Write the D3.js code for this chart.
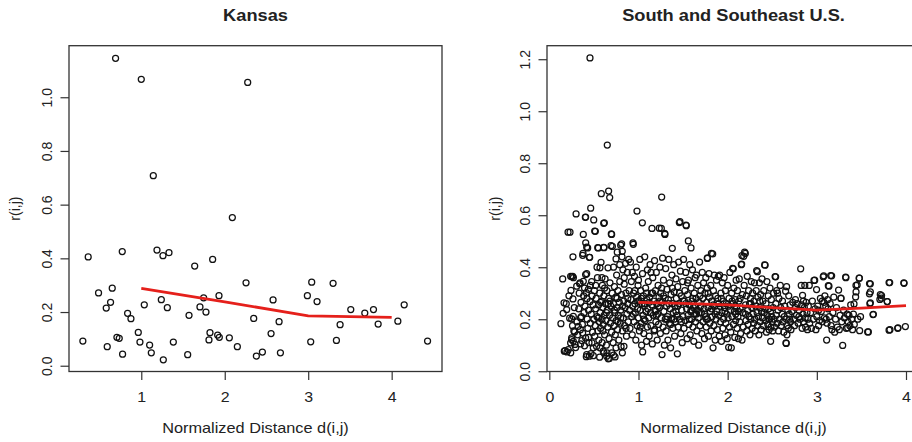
<!DOCTYPE html>
<meta charset="utf-8">
<script src="https://d3js.org/d3.v7.min.js"></script>
<style>
  body { margin: 0; background: #fff; }
  text { font-family: "Liberation Sans", Arial, Helvetica, sans-serif; fill: #222; }
</style>
<body>
<div id="chart"></div>
<script>
// ---- Kansas (left panel) ----
var kansasDist = [0.30,0.364,0.488,0.58,0.592,0.632,0.652,0.692,0.708,0.736,0.772,0.776,0.836,0.876,0.964,0.984,
  1.0,1.036,1.10,1.12,1.144,1.188,1.24,1.26,1.264,1.312,1.332,1.384,1.556,1.572,1.64,1.703,1.747,1.775,1.811,1.823,
  1.855,1.915,1.931,1.935,2.055,2.091,2.151,2.255,2.275,2.347,2.379,2.451,2.555,2.579,2.651,2.667,2.99,3.03,3.042,
  3.106,3.298,3.338,3.382,3.51,3.678,3.782,3.838,4.074,4.15,4.43];
var kansasR = [0.092,0.405,0.271,0.215,0.071,0.236,0.289,1.145,0.106,0.102,0.425,0.043,0.195,0.175,0.124,0.088,
  1.067,0.227,0.077,0.048,0.708,0.431,0.246,0.41,0.022,0.216,0.421,0.088,0.041,0.188,0.371,0.219,0.253,0.2,0.096,0.123,
  0.396,0.114,0.261,0.106,0.104,0.552,0.071,0.309,1.055,0.176,0.036,0.051,0.12,0.245,0.164,0.048,0.261,0.089,0.311,
  0.239,0.307,0.094,0.153,0.209,0.196,0.209,0.155,0.166,0.227,0.092];
var kansasLineX = [1, 2, 3, 4];
var kansasLineY = [0.288, 0.238, 0.186, 0.180];

// ---- South and Southeast U.S. (right panel) ----
var southPts = [
 [0.13,0.183],[0.15,0.355],[0.155,0.223],[0.165,0.263],[0.168,0.077],[0.176,0.079],[0.19,0.26],[0.195,0.237],[0.198,0.074],[0.212,0.083],[0.21,0.535],[0.232,0.535],[0.228,0.204],[0.24,0.071],[0.239,0.109],[0.243,0.311],[0.239,0.365],[0.251,0.201],[0.25,0.122],[0.253,0.364],[0.262,0.365],[0.265,0.44],[0.265,0.278],[0.269,0.211],[0.27,0.36],[0.269,0.115],[0.284,0.151],[0.288,0.103],[0.295,0.091],[0.251,0.128],[0.275,0.155],[0.28,0.245],[0.22,0.29],[0.26,0.175],
 [0.3,0.605],[0.307,0.327],[0.31,0.19],[0.318,0.14],[0.325,0.173],[0.33,0.24],[0.335,0.3],[0.34,0.336],[0.344,0.34],[0.348,0.16],[0.35,0.105],[0.355,0.265],[0.36,0.21],[0.365,0.118],[0.37,0.18],[0.374,0.147],[0.374,0.446],[0.378,0.453],[0.381,0.346],[0.381,0.526],[0.385,0.29],[0.39,0.225],[0.395,0.098],[0.4,0.25],[0.404,0.592],[0.407,0.372],[0.407,0.593],[0.407,0.128],[0.408,0.494],[0.415,0.302],[0.415,0.056],[0.419,0.477],[0.419,0.375],[0.419,0.064],[0.422,0.279],[0.425,0.2],[0.43,0.474],[0.432,0.165],[0.438,0.315],[0.44,0.235],[0.445,0.11],[0.448,0.058],[0.449,0.438],[0.453,0.438],[0.456,1.205],[0.456,0.268],[0.46,0.185],[0.464,0.627],[0.467,0.068],[0.47,0.22],[0.475,0.345],[0.478,0.109],[0.48,0.29],[0.485,0.15],[0.49,0.255],[0.493,0.09],[0.493,0.06],[0.498,0.582],[0.5,0.2],[0.46,0.33],[0.395,0.32],[0.35,0.205],[0.44,0.13],
 [0.505,0.31],[0.509,0.539],[0.51,0.135],[0.515,0.175],[0.516,0.538],[0.52,0.24],[0.525,0.28],[0.53,0.095],[0.535,0.21],[0.54,0.36],[0.543,0.475],[0.545,0.155],[0.55,0.474],[0.552,0.255],[0.555,0.12],[0.56,0.19],[0.564,0.054],[0.565,0.3],[0.568,0.398],[0.568,0.09],[0.57,0.225],[0.575,0.165],[0.58,0.419],[0.583,0.683],[0.585,0.27],[0.59,0.2],[0.592,0.11],[0.595,0.33],[0.6,0.245],[0.605,0.077],[0.605,0.18],[0.61,0.569],[0.61,0.476],[0.612,0.29],[0.613,0.475],[0.613,0.071],[0.615,0.215],[0.617,0.571],[0.62,0.14],[0.625,0.355],[0.63,0.26],[0.635,0.195],[0.64,0.1],[0.643,0.058],[0.645,0.31],[0.647,0.071],[0.65,0.87],[0.65,0.235],[0.655,0.17],[0.658,0.398],[0.661,0.048],[0.665,0.693],[0.665,0.28],[0.67,0.125],[0.673,0.049],[0.677,0.668],[0.675,0.215],[0.68,0.34],[0.685,0.185],[0.69,0.25],[0.692,0.483],[0.695,0.528],[0.699,0.526],[0.7,0.071],[0.698,0.15],[0.52,0.33],[0.575,0.265],[0.62,0.32],[0.66,0.26],[0.55,0.205],[0.6,0.155],[0.64,0.225],[0.68,0.27],[0.535,0.4],[0.59,0.36],
 [0.705,0.3],[0.707,0.48],[0.71,0.205],[0.715,0.11],[0.72,0.26],[0.721,0.062],[0.725,0.175],[0.73,0.325],[0.735,0.225],[0.737,0.055],[0.74,0.14],[0.745,0.285],[0.748,0.432],[0.748,0.09],[0.75,0.195],[0.755,0.37],[0.76,0.245],[0.762,0.458],[0.765,0.16],[0.77,0.31],[0.775,0.215],[0.78,0.12],[0.785,0.265],[0.79,0.345],[0.795,0.185],[0.8,0.485],[0.8,0.235],[0.805,0.095],[0.81,0.295],[0.811,0.49],[0.815,0.44],[0.818,0.461],[0.819,0.071],[0.82,0.155],[0.825,0.39],[0.83,0.205],[0.835,0.27],[0.837,0.096],[0.84,0.335],[0.845,0.175],[0.85,0.245],[0.855,0.415],[0.86,0.3],[0.865,0.135],[0.87,0.22],[0.875,0.38],[0.88,0.26],[0.885,0.19],[0.89,0.43],[0.895,0.31],[0.9,0.235],[0.72,0.4],[0.76,0.28],[0.8,0.205],[0.84,0.36],[0.88,0.28],[0.73,0.235],[0.77,0.19],[0.82,0.25],[0.86,0.165],[0.79,0.41],
 [0.905,0.165],[0.91,0.42],[0.915,0.275],[0.92,0.345],[0.925,0.21],[0.93,0.14],[0.935,0.25],[0.938,0.494],[0.942,0.488],[0.945,0.3],[0.95,0.19],[0.955,0.365],[0.96,0.26],[0.965,0.225],[0.97,0.12],[0.975,0.4],[0.98,0.285],[0.983,0.616],[0.985,0.175],[0.99,0.24],[0.995,0.33],[1.0,0.205],[1.005,0.27],[1.01,0.155],[1.015,0.43],[1.02,0.235],[1.025,0.31],[1.03,0.185],[1.035,0.1],[1.04,0.26],[1.043,0.571],[1.045,0.375],[1.047,0.074],[1.05,0.215],[1.055,0.29],[1.06,0.145],[1.065,0.25],[1.07,0.44],[1.075,0.195],[1.08,0.32],[1.085,0.23],[1.09,0.115],[1.095,0.275],[1.1,0.17],[1.1,0.39],[0.93,0.38],[0.96,0.31],[1.0,0.35],[1.03,0.28],[1.06,0.2],[1.09,0.3],[0.94,0.22],[0.99,0.27],[1.02,0.17],[1.07,0.26],
 [1.105,0.24],[1.11,0.345],[1.115,0.205],[1.12,0.135],[1.125,0.285],[1.13,0.41],[1.135,0.225],[1.14,0.175],[1.145,0.3],[1.151,0.549],[1.15,0.255],[1.155,0.105],[1.16,0.36],[1.165,0.215],[1.17,0.27],[1.175,0.155],[1.18,0.425],[1.185,0.235],[1.19,0.31],[1.195,0.19],[1.2,0.38],[1.205,0.26],[1.21,0.12],[1.215,0.22],[1.22,0.33],[1.225,0.18],[1.23,0.285],[1.233,0.55],[1.235,0.245],[1.24,0.4],[1.245,0.145],[1.25,0.3],[1.255,0.205],[1.256,0.549],[1.26,0.67],[1.264,0.064],[1.265,0.265],[1.27,0.435],[1.275,0.17],[1.28,0.35],[1.285,0.23],[1.29,0.1],[1.294,0.53],[1.297,0.526],[1.3,0.28],[1.3,0.2],[1.12,0.265],[1.16,0.3],[1.2,0.215],[1.24,0.27],[1.28,0.29],[1.14,0.38],[1.18,0.16],[1.22,0.25],[1.26,0.32],[1.19,0.23],
 [1.305,0.395],[1.31,0.155],[1.315,0.25],[1.32,0.315],[1.325,0.21],[1.33,0.12],[1.335,0.275],[1.34,0.43],[1.345,0.185],[1.35,0.34],[1.355,0.24],[1.36,0.09],[1.365,0.295],[1.37,0.2],[1.375,0.37],[1.379,0.473],[1.38,0.26],[1.385,0.165],[1.39,0.225],[1.395,0.41],[1.4,0.305],[1.405,0.135],[1.41,0.25],[1.415,0.19],[1.42,0.355],[1.425,0.28],[1.43,0.215],[1.436,0.067],[1.44,0.325],[1.445,0.17],[1.45,0.42],[1.455,0.26],[1.458,0.572],[1.46,0.2],[1.465,0.575],[1.47,0.385],[1.475,0.145],[1.48,0.29],[1.485,0.235],[1.49,0.11],[1.495,0.345],[1.5,0.21],[1.34,0.26],[1.38,0.32],[1.42,0.23],[1.46,0.3],[1.5,0.27],[1.32,0.2],[1.36,0.18],[1.4,0.2],[1.44,0.25],[1.48,0.19],
 [1.505,0.43],[1.51,0.165],[1.515,0.27],[1.52,0.31],[1.525,0.195],[1.53,0.38],[1.533,0.562],[1.536,0.56],[1.54,0.24],[1.545,0.125],[1.55,0.295],[1.555,0.215],[1.559,0.501],[1.56,0.35],[1.565,0.18],[1.57,0.255],[1.575,0.41],[1.58,0.14],[1.585,0.23],[1.589,0.474],[1.59,0.32],[1.595,0.2],[1.6,0.27],[1.605,0.39],[1.61,0.17],[1.615,0.245],[1.62,0.115],[1.625,0.3],[1.63,0.22],[1.635,0.36],[1.64,0.19],[1.645,0.28],[1.65,0.37],[1.655,0.155],[1.66,0.235],[1.665,0.33],[1.67,0.205],[1.675,0.1],[1.68,0.265],[1.685,0.42],[1.69,0.175],[1.695,0.25],[1.7,0.31],[1.53,0.26],[1.57,0.2],[1.61,0.28],[1.65,0.22],[1.69,0.29],[1.55,0.34],[1.6,0.235],[1.64,0.25],[1.68,0.225],
 [1.705,0.225],[1.71,0.145],[1.715,0.38],[1.72,0.28],[1.725,0.19],[1.73,0.34],[1.735,0.24],[1.74,0.125],[1.745,0.3],[1.75,0.21],[1.755,0.36],[1.76,0.17],[1.765,0.265],[1.77,0.32],[1.772,0.434],[1.773,0.436],[1.775,0.2],[1.78,0.245],[1.785,0.135],[1.79,0.375],[1.795,0.285],[1.8,0.185],[1.805,0.23],[1.81,0.33],[1.815,0.155],[1.818,0.453],[1.82,0.27],[1.825,0.21],[1.832,0.451],[1.836,0.09],[1.84,0.31],[1.845,0.175],[1.85,0.37],[1.855,0.25],[1.86,0.12],[1.865,0.29],[1.87,0.2],[1.875,0.35],[1.88,0.23],[1.885,0.16],[1.89,0.28],[1.895,0.365],[1.9,0.215],[1.74,0.22],[1.78,0.3],[1.82,0.24],[1.86,0.22],[1.9,0.26],[1.76,0.2],[1.84,0.255],
 [1.905,0.135],[1.91,0.37],[1.915,0.25],[1.92,0.19],[1.925,0.3],[1.93,0.115],[1.935,0.225],[1.94,0.34],[1.945,0.165],[1.95,0.27],[1.955,0.2],[1.96,0.36],[1.965,0.245],[1.97,0.14],[1.975,0.31],[1.98,0.185],[1.985,0.26],[1.99,0.22],[1.995,0.125],[2.0,0.33],[2.005,0.205],[2.011,0.092],[2.015,0.28],[2.02,0.17],[2.025,0.38],[2.03,0.235],[2.035,0.15],[2.041,0.09],[2.045,0.3],[2.05,0.21],[2.056,0.396],[2.06,0.26],[2.063,0.394],[2.065,0.18],[2.07,0.32],[2.075,0.23],[2.08,0.13],[2.085,0.275],[2.09,0.195],[2.095,0.35],[2.1,0.245],[1.93,0.28],[1.97,0.23],[2.01,0.25],[2.05,0.27],[2.09,0.22],
 [2.105,0.165],[2.11,0.31],[2.115,0.21],[2.12,0.125],[2.125,0.27],[2.13,0.355],[2.135,0.19],[2.14,0.24],[2.145,0.145],[2.153,0.41],[2.157,0.412],[2.16,0.445],[2.161,0.12],[2.165,0.295],[2.17,0.225],[2.175,0.17],[2.18,0.442],[2.185,0.33],[2.19,0.458],[2.198,0.453],[2.2,0.255],[2.205,0.195],[2.21,0.29],[2.215,0.155],[2.22,0.365],[2.225,0.235],[2.23,0.18],[2.235,0.31],[2.24,0.21],[2.245,0.26],[2.25,0.14],[2.255,0.28],[2.26,0.2],[2.265,0.345],[2.27,0.245],[2.275,0.165],[2.28,0.3],[2.285,0.22],[2.29,0.185],[2.295,0.27],[2.3,0.34],[2.14,0.28],[2.2,0.22],[2.26,0.26],[2.12,0.23],
 [2.305,0.2],[2.31,0.155],[2.315,0.25],[2.32,0.31],[2.325,0.387],[2.33,0.225],[2.333,0.383],[2.335,0.175],[2.34,0.285],[2.345,0.21],[2.35,0.14],[2.355,0.34],[2.36,0.245],[2.365,0.19],[2.37,0.295],[2.375,0.16],[2.38,0.23],[2.385,0.355],[2.39,0.205],[2.395,0.27],[2.4,0.175],[2.405,0.31],[2.41,0.225],[2.415,0.409],[2.42,0.408],[2.425,0.195],[2.43,0.26],[2.435,0.15],[2.44,0.345],[2.445,0.215],[2.45,0.18],[2.455,0.29],[2.46,0.24],[2.465,0.16],[2.47,0.2],[2.475,0.32],[2.48,0.23],[2.482,0.115],[2.485,0.17],[2.49,0.275],[2.495,0.21],[2.5,0.19],[2.36,0.27],[2.42,0.24],[2.46,0.2],
 [2.505,0.155],[2.51,0.245],[2.515,0.3],[2.52,0.2],[2.525,0.17],[2.532,0.364],[2.538,0.363],[2.54,0.26],[2.545,0.215],[2.55,0.31],[2.555,0.185],[2.56,0.3],[2.565,0.235],[2.57,0.155],[2.575,0.28],[2.58,0.2],[2.59,0.33],[2.595,0.245],[2.6,0.175],[2.61,0.22],[2.615,0.27],[2.62,0.19],[2.63,0.15],[2.635,0.21],[2.64,0.25],[2.65,0.308],[2.654,0.109],[2.657,0.107],[2.66,0.2],[2.661,0.325],[2.665,0.14],[2.67,0.175],[2.675,0.235],[2.68,0.165],[2.685,0.29],[2.69,0.22],[2.695,0.2],[2.7,0.255],
 [2.705,0.19],[2.71,0.16],[2.72,0.23],[2.73,0.265],[2.74,0.2],[2.75,0.175],[2.76,0.245],[2.77,0.215],[2.78,0.26],[2.79,0.185],[2.8,0.235],[2.81,0.2],[2.819,0.394],[2.825,0.33],[2.83,0.255],[2.835,0.165],[2.84,0.292],[2.845,0.22],[2.85,0.19],[2.86,0.245],[2.865,0.33],[2.87,0.205],[2.875,0.17],[2.88,0.265],[2.89,0.225],[2.895,0.16],[2.9,0.2],[2.76,0.275],[2.8,0.21],[2.85,0.27],
 [2.905,0.25],[2.915,0.33],[2.92,0.185],[2.93,0.225],[2.94,0.165],[2.95,0.27],[2.96,0.2],[2.968,0.349],[2.976,0.35],[2.98,0.24],[2.99,0.16],[2.997,0.314],[3.0,0.21],[3.01,0.25],[3.02,0.175],[3.03,0.195],[3.04,0.28],[3.05,0.23],[3.06,0.19],[3.072,0.363],[3.077,0.367],[3.08,0.265],[3.085,0.205],[3.09,0.29],[3.1,0.25],[3.11,0.12],[3.02,0.235],[3.06,0.27],
 [3.105,0.2],[3.115,0.185],[3.12,0.275],[3.125,0.24],[3.129,0.329],[3.136,0.327],[3.14,0.21],[3.15,0.26],[3.155,0.368],[3.16,0.175],[3.166,0.367],[3.17,0.16],[3.18,0.225],[3.19,0.285],[3.2,0.15],[3.21,0.2],[3.22,0.245],[3.23,0.17],[3.244,0.312],[3.252,0.16],[3.26,0.215],[3.27,0.28],[3.271,0.281],[3.28,0.19],[3.29,0.099],[3.3,0.235],
 [3.31,0.205],[3.323,0.362],[3.326,0.36],[3.33,0.165],[3.34,0.22],[3.346,0.167],[3.35,0.19],[3.36,0.215],[3.37,0.175],[3.38,0.255],[3.39,0.2],[3.4,0.16],[3.41,0.22],[3.417,0.259],[3.42,0.18],[3.435,0.286],[3.439,0.33],[3.44,0.305],[3.452,0.332],[3.46,0.2],[3.475,0.358],[3.477,0.358],[3.48,0.156],[3.49,0.21],
 [3.57,0.151],[3.578,0.151],[3.59,0.298],[3.591,0.337],[3.595,0.26],[3.6,0.336],[3.6,0.305],[3.6,0.263],[3.63,0.218],[3.634,0.219],[3.707,0.276],[3.712,0.295],[3.723,0.281],[3.726,0.291],[3.789,0.268],[3.79,0.268],[3.81,0.341],[3.817,0.341],[3.81,0.158],[3.82,0.16],[3.907,0.165],[3.91,0.167],[3.976,0.34],[3.978,0.338],[3.993,0.172]
];
var southLineX = [1, 1.5, 2, 2.5, 3, 3.5, 4];
var southLineY = [0.265, 0.261, 0.255, 0.245, 0.235, 0.243, 0.252];

var W = 912, H = 442;
var stretch = 1.14; // horizontal text in the picture is wider than it is tall
var svg = d3.select("#chart").append("svg")
    .attr("width", W)
    .attr("height", H);

var panels = [
  { title: "Kansas", left: 69, right: 442, top: 45.7, bottom: 371.5,
    xDom: [0.134, 4.603], yDom: [-0.0215, 1.192],
    xTicks: [1, 2, 3, 4], yTicks: [0, 0.2, 0.4, 0.6, 0.8, 1.0],
    pts: kansasDist.map(function(d, i) { return [d, kansasR[i]]; }),
    lx: kansasLineX, ly: kansasLineY, ylabX: 19.5 },
  { title: "South and Southeast U.S.", left: 547, right: 920, top: 45.7, bottom: 371.5,
    xDom: [-0.026, 4.157], yDom: [-0.001, 1.252],
    xTicks: [0, 1, 2, 3, 4], yTicks: [0, 0.2, 0.4, 0.6, 0.8, 1.0, 1.2],
    pts: southPts,
    lx: southLineX, ly: southLineY, ylabX: 499.5 }
];

function wideText(px, py, size, bold, str) {
  var t = svg.append("g")
      .attr("transform", "translate(" + px + "," + py + ") scale(" + stretch + ",1)")
    .append("text")
      .style("text-anchor", "middle")
      .style("font-size", size + "px")
      .text(str);
  if (bold) t.style("font-weight", "bold");
  return t;
}

panels.forEach(function(p) {
  var x = d3.scaleLinear().domain(p.xDom).range([p.left, p.right]);
  var y = d3.scaleLinear().domain(p.yDom).range([p.bottom, p.top]);
  var cx = (p.left + p.right) / 2;
  var cy = (p.top + p.bottom) / 2;

  // x axis (ticks only, box drawn below)
  var gx = svg.append("g")
      .attr("transform", "translate(0," + p.bottom + ")")
      .call(d3.axisBottom(x).tickValues(p.xTicks).tickSize(8.5).tickFormat(d3.format("d")));
  gx.select(".domain").remove();
  gx.selectAll("line").attr("stroke", "#333").attr("stroke-width", 1.2);
  gx.selectAll("text").attr("y", 30.5).attr("dy", null)
      .attr("transform", "scale(" + stretch + ",1)")
      .style("font-size", "14px").attr("fill", "#222");

  // y axis with rotated labels
  var gy = svg.append("g")
      .attr("transform", "translate(" + p.left + ",0)")
      .call(d3.axisLeft(y).tickValues(p.yTicks).tickSize(8.5).tickFormat(d3.format(".1f")));
  gy.select(".domain").remove();
  gy.selectAll("line").attr("stroke", "#333").attr("stroke-width", 1.2);
  gy.selectAll("text")
      .attr("x", 0).attr("y", -17.5).attr("dy", null)
      .attr("transform", "rotate(-90)")
      .style("text-anchor", "middle")
      .style("font-size", "14px").attr("fill", "#222");

  // box
  svg.append("rect")
      .attr("x", p.left).attr("y", p.top)
      .attr("width", p.right - p.left).attr("height", p.bottom - p.top)
      .attr("fill", "none").attr("stroke", "#333").attr("stroke-width", 1.3);

  // points
  svg.append("g").selectAll("circle")
      .data(p.pts)
      .enter().append("circle")
      .attr("cx", function(d) { return x(d[0]); })
      .attr("cy", function(d) { return y(d[1]); })
      .attr("r", 3.0)
      .attr("fill", "none")
      .attr("stroke", "#111")
      .attr("stroke-width", 1.25);

  // smooth line
  var line = d3.line()
      .x(function(d, i) { return x(p.lx[i]); })
      .y(function(d) { return y(d); });
  svg.append("path")
      .attr("d", line(p.ly))
      .attr("fill", "none")
      .attr("stroke", "#e5201b")
      .attr("stroke-width", 2.8);

  // titles and labels
  wideText(cx, 20.7, 16, true, p.title);
  wideText(cx, 433, 14.3, false, "Normalized Distance d(i,j)");

  svg.append("text")
      .attr("transform", "translate(" + p.ylabX + "," + cy + ") rotate(-90)")
      .style("text-anchor", "middle")
      .style("font-size", "14px")
      .text("r(i,j)");
});
</script>
</body>
